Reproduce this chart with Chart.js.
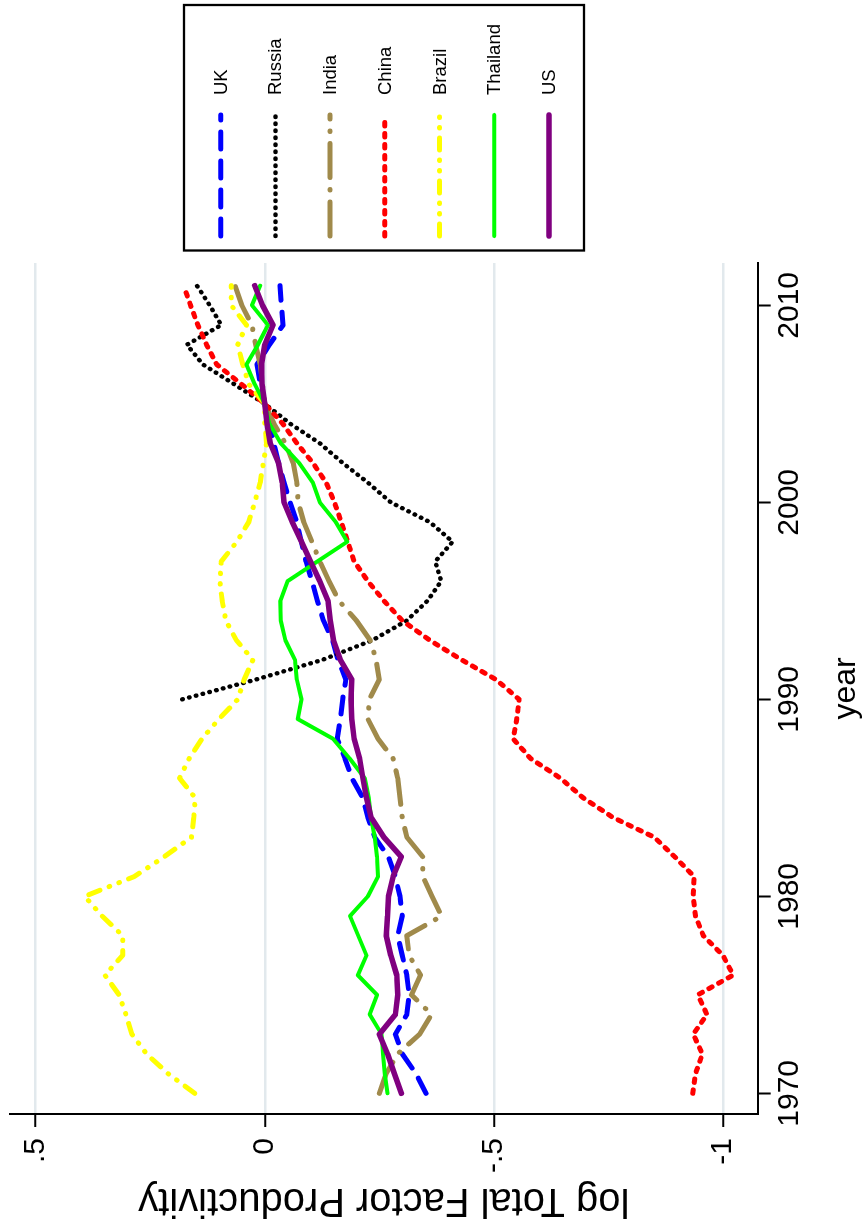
<!DOCTYPE html>
<html>
<head>
<meta charset="utf-8">
<script src="https://cdn.jsdelivr.net/npm/chart.js@4/dist/chart.umd.min.js"></script>
<style>
html,body{margin:0;padding:0;background:#fff;width:862px;height:1230px;overflow:hidden;}
#wrap{position:absolute;left:0;top:0;width:1230px;height:862px;transform-origin:0 0;transform:translate(0,1230px) rotate(-90deg);background:#fff;}
canvas{display:block;}
</style>
</head>
<body>
<div id="wrap"><canvas id="c" width="1230" height="862"></canvas></div>
<script>
// ---- data ----
const years = [1970,1971,1972,1973,1974,1975,1976,1977,1978,1979,
               1980,1981,1982,1983,1984,1985,1986,1987,1988,1989,
               1990,1991,1992,1993,1994,1995,1996,1997,1998,1999,
               2000,2001,2002,2003,2004,2005,2006,2007,2008,2009,
               2010,2011];
const uk = [-0.352,-0.33,-0.30,-0.285,-0.31,-0.315,-0.31,-0.30,-0.29,-0.30,
            -0.295,-0.285,-0.27,-0.24,-0.225,-0.214,-0.19,-0.175,-0.158,-0.165,
            -0.17,-0.177,-0.16,-0.148,-0.128,-0.115,-0.103,-0.09,-0.08,-0.07,
            -0.055,-0.042,-0.03,-0.02,-0.011,0,0.01,0.017,-0.01,-0.04,
            -0.036,-0.033];
const russia = [null,null,null,null,null,null,null,null,null,null,
                null,null,null,null,null,null,null,null,null,null,
                0.18,0.02,-0.125,-0.235,-0.31,-0.355,-0.385,-0.372,-0.41,-0.36,
                -0.275,-0.225,-0.17,-0.12,-0.055,0,0.067,0.135,0.17,0.095,
                0.12,0.148];
const india = [-0.25,-0.265,-0.29,-0.338,-0.364,-0.32,-0.34,-0.315,-0.31,-0.386,
               -0.365,-0.345,-0.345,-0.31,-0.30,-0.295,-0.29,-0.28,-0.247,-0.225,
               -0.228,-0.25,-0.243,-0.23,-0.2,-0.162,-0.14,-0.12,-0.103,-0.085,
               -0.073,-0.07,-0.062,-0.045,-0.02,0,0.005,0.01,0.02,0.028,
               0.05,0.065];
const china = [-0.934,-0.94,-0.955,-0.935,-0.965,-0.945,-1.022,-1.0,-0.957,-0.94,
               -0.935,-0.937,-0.895,-0.85,-0.76,-0.695,-0.645,-0.58,-0.542,-0.55,
               -0.555,-0.505,-0.43,-0.36,-0.30,-0.26,-0.225,-0.195,-0.181,-0.167,
               -0.152,-0.134,-0.105,-0.07,-0.039,0,0.051,0.105,0.127,0.146,
               0.162,0.177];
const brazil = [0.153,0.211,0.258,0.29,0.303,0.318,0.349,0.31,0.31,0.355,
                0.393,0.285,0.22,0.16,0.155,0.152,0.186,0.165,0.137,0.10,
                0.059,0.045,0.026,0.062,0.085,0.093,0.098,0.095,0.061,0.035,
                0.022,0.01,0.003,-0.004,0.0,0,0.035,0.048,0.059,0.04,
                0.073,0.073];
const thailand = [-0.268,-0.262,-0.258,-0.255,-0.229,-0.245,-0.203,-0.222,-0.204,-0.186,
                  -0.225,-0.247,-0.245,-0.24,-0.232,-0.227,-0.218,-0.185,-0.149,-0.072,
                  -0.08,-0.07,-0.066,-0.045,-0.035,-0.034,-0.05,-0.115,-0.18,-0.155,
                  -0.12,-0.105,-0.075,-0.035,-0.01,0,0.022,0.04,0.015,-0.007,
                  0.028,0.01];
const us = [-0.298,-0.283,-0.268,-0.25,-0.285,-0.29,-0.288,-0.275,-0.265,-0.268,
            -0.27,-0.28,-0.298,-0.26,-0.232,-0.222,-0.214,-0.207,-0.195,-0.19,
            -0.188,-0.19,-0.165,-0.15,-0.143,-0.138,-0.12,-0.10,-0.08,-0.06,
            -0.042,-0.038,-0.03,-0.012,-0.005,0,0.006,0.007,0.0,-0.018,
            0.005,0.022];
const seriesNames = ['UK','Russia','India','China','Brazil','Thailand','US'];
const yearTicks = [1970,1980,1990,2000,2010];
const valueTicks = [0.5,0,-0.5,-1];
const valueTickLabels = ['.5','0','-.5','-1'];

// ---- styles ----
const FONT = '"Liberation Sans", Arial, sans-serif';
const seriesValues = [uk, russia, india, china, brazil, thailand, us];
const styles = [
  {color:'#0000ff', width:5,   dash:[17,12]},
  {color:'#000000', width:4.5, dash:[0.5,6.5]},
  {color:'#a08a4b', width:5,   dash:[34,12,0.5,12]},
  {color:'#ff0000', width:5,   dash:[3.5,7.5]},
  {color:'#ffff00', width:5,   dash:[12,10,0.5,10,0.5,10]},
  {color:'#00ff00', width:4,   dash:[]},
  {color:'#800080', width:5.5, dash:[]}
];

const datasets = seriesNames.map((name, i) => ({
  label: name,
  data: years.map((yr, k) => ({x: yr, y: seriesValues[i][k]})).filter(p => p.y !== null),
  borderColor: styles[i].color,
  backgroundColor: styles[i].color,
  borderWidth: styles[i].width,
  borderDash: styles[i].dash,
  borderCapStyle: 'round',
  borderJoinStyle: 'round',
  pointRadius: 0,
  tension: 0,
  fill: false,
  order: seriesNames.length - i
}));

const boxLegend = {
  id: 'boxLegend',
  afterDraw(chart) {
    const ctx = chart.ctx;
    ctx.save();
    ctx.setLineDash([]);
    ctx.lineWidth = 2.3;
    ctx.strokeStyle = '#000';
    ctx.strokeRect(979.5, 184, 245.5, 400);
    chart.data.datasets.forEach((ds, i) => {
      const y = 220.7 + i * 54.7;
      ctx.beginPath();
      ctx.setLineDash(ds.borderDash || []);
      ctx.lineCap = ds.borderCapStyle;
      ctx.lineWidth = ds.borderWidth;
      ctx.strokeStyle = ds.borderColor;
      ctx.moveTo(994, y);
      ctx.lineTo(1115, y);
      ctx.stroke();
      ctx.setLineDash([]);
      ctx.fillStyle = '#000';
      ctx.font = '18.5px ' + FONT;
      ctx.textAlign = 'left';
      ctx.textBaseline = 'middle';
      ctx.fillText(ds.label, 1135, y + 1);
    });
    ctx.restore();
  }
};

new Chart(document.getElementById('c'), {
  type: 'line',
  data: {datasets},
  options: {
    responsive: false,
    animation: false,
    devicePixelRatio: 1,
    layout: {padding: {left: 0, top: 10, right: 263, bottom: 0}},
    plugins: {legend: {display: false}, tooltip: {enabled: false}},
    scales: {
      x: {
        type: 'linear',
        min: 1968.95,
        max: 2012.15,
        afterBuildTicks: s => { s.ticks = yearTicks.map(v => ({value: v})); },
        afterFit: s => { s.height = 104.3; s.paddingLeft = 0; s.paddingRight = 0; },
        grid: {display: true, drawOnChartArea: false, drawTicks: true, tickLength: 13, tickWidth: 2, tickColor: '#000'},
        border: {display: true, color: '#000', width: 2},
        ticks: {font: {family: FONT, size: 30}, color: '#000', padding: 1, maxRotation: 0, autoSkip: false,
                callback: v => String(v)},
        title: {display: true, text: 'year', color: '#000', font: {family: FONT, size: 32, lineHeight: 1}, padding: {top: 0, bottom: 0}}
      },
      y: {
        type: 'linear',
        min: -1.0757,
        max: 0.556,
        afterBuildTicks: s => { s.ticks = valueTicks.map(v => ({value: v})); },
        afterFit: s => { s.width = 116; s.paddingTop = 0; s.paddingBottom = 0; },
        grid: {display: true, color: '#e2e9ed', lineWidth: 2.5, drawTicks: true, tickLength: 13, tickWidth: 2, tickColor: '#000'},
        border: {display: true, color: '#000', width: 2},
        ticks: {font: {family: FONT, size: 30}, color: '#000', padding: 11, autoSkip: false,
                callback: v => { const k = valueTicks.indexOf(v); return k >= 0 ? valueTickLabels[k] : ''; }},
        title: {display: true, text: 'log Total Factor Productivity', color: '#000', font: {family: FONT, size: 40, lineHeight: 1}, padding: {top: 10, bottom: 0}}
      }
    }
  },
  plugins: [boxLegend]
});
</script>
</body>
</html>
